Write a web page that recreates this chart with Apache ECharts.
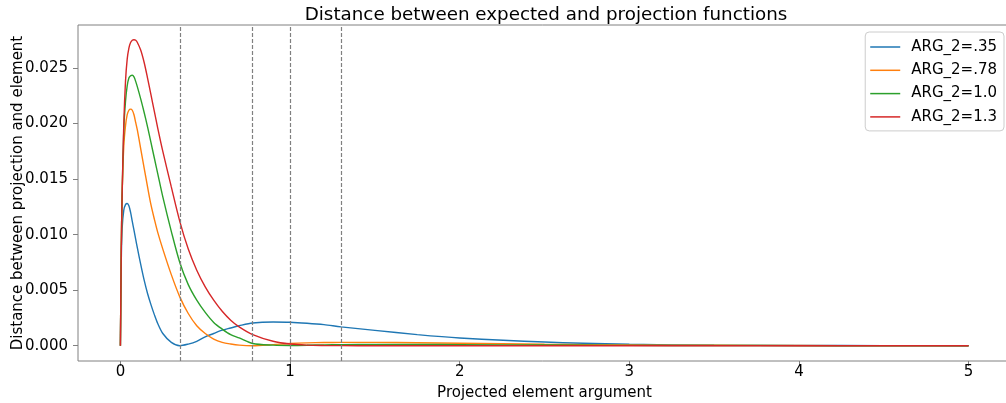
<!DOCTYPE html>
<html>
<head>
<meta charset="utf-8">
<script src="https://cdn.jsdelivr.net/npm/echarts@6/dist/echarts.min.js"></script>
<style>
html,body{margin:0;padding:0;background:#fff;}
#chart{width:1006px;height:403px;}
</style>
</head>
<body>
<div id="chart"></div>
<script>
// ---- data ----
const titleText = 'Distance between expected and projection functions';
const xLabel = 'Projected element argument';
const yLabel = 'Distance between projection and element';
const seriesNames = ['ARG_2=.35', 'ARG_2=.78', 'ARG_2=1.0', 'ARG_2=1.3'];
const seriesColors = ['#1f77b4', '#ff7f0e', '#2ca02c', '#d62728'];
const xs = [0, 0.005, 0.01, 0.02, 0.03, 0.04, 0.05, 0.06, 0.07, 0.08, 0.09, 0.1, 0.12, 0.14, 0.16, 0.18, 0.2, 0.22, 0.25, 0.3, 0.35, 0.4, 0.45, 0.5, 0.55, 0.6, 0.65, 0.7, 0.78, 0.9, 1.0, 1.1, 1.2, 1.3, 1.5, 1.75, 2.0, 2.5, 3.0, 3.5, 4.0, 4.5, 5.0];
const arg035 = [0, 0.0075, 0.0105, 0.0122, 0.0127, 0.0128, 0.0126, 0.0120, 0.0112, 0.0104, 0.0096, 0.0088, 0.0073, 0.0059, 0.0047, 0.0037, 0.0028, 0.0020, 0.0011, 0.0003, 0.0, 0.00015, 0.0004, 0.0008, 0.0011, 0.0014, 0.0016, 0.0018, 0.00205, 0.00214, 0.00212, 0.00203, 0.0019, 0.0017, 0.00138, 0.0010, 0.0007, 0.00033, 0.00013, 0.00005, 0.00002, 0.00001, 0.0];
const arg078 = [0, 0.0085, 0.0135, 0.0180, 0.0198, 0.0208, 0.0212, 0.0213, 0.0212, 0.0208, 0.0201, 0.0194, 0.0177, 0.0160, 0.0143, 0.0127, 0.0114, 0.0102, 0.0087, 0.0064, 0.0044, 0.0029, 0.0018, 0.0011, 0.0006, 0.0003, 0.00015, 0.00005, 0.0, 0.0001, 0.0002, 0.00026, 0.00029, 0.0003, 0.0003, 0.00027, 0.00022, 0.00013, 0.00007, 0.00004, 0.00002, 0.00001, 0.00001];
const arg100 = [0, 0.0085, 0.0135, 0.0195, 0.0220, 0.0234, 0.0241, 0.0243, 0.02435, 0.0242, 0.0238, 0.0233, 0.0222, 0.0210, 0.0197, 0.0183, 0.0169, 0.0155, 0.0134, 0.0103, 0.0075, 0.0055, 0.0041, 0.0030, 0.0021, 0.0015, 0.0010, 0.0007, 0.0002, 0.00005, 0.00002, 0.00004, 0.00008, 0.0001, 0.00012, 0.00011, 0.0001, 0.00006, 0.00003, 0.00002, 0.00001, 0, 0];
const arg130 = [0, 0.0085, 0.0135, 0.0200, 0.0238, 0.0258, 0.0268, 0.0273, 0.0275, 0.02755, 0.0275, 0.0273, 0.0266, 0.0255, 0.0241, 0.0226, 0.0211, 0.0196, 0.0175, 0.0143, 0.0112, 0.0087, 0.0068, 0.0053, 0.0041, 0.0031, 0.0023, 0.0017, 0.0010, 0.0004, 0.00015, 0.00005, 0.00002, 0.00001, 0, 0, 0, 0, 0, 0, 0, 0, 0];
const vlines = [0.35, 0.78, 1.0, 1.3];
const xTicks = [0, 1, 2, 3, 4, 5];
const yTicks = [0, 0.005, 0.01, 0.015, 0.02, 0.025];

// ---- chart ----
const FONT = 'DejaVu Sans';
const allValues = [arg035, arg078, arg100, arg130];
const chart = echarts.init(document.getElementById('chart'), null, {renderer: 'canvas'});
const series = allValues.map((vals, i) => ({
  name: seriesNames[i],
  type: 'line',
  data: xs.map((x, k) => [x, vals[k]]),
  symbol: 'none',
  showSymbol: false,
  smooth: 0.3,
  lineStyle: {color: seriesColors[i], width: 1.4},
  itemStyle: {color: seriesColors[i]},
  z: 3
}));
series[0].markLine = {
  silent: true,
  symbol: ['none', 'none'],
  label: {show: false},
  animation: false,
  lineStyle: {color: '#808080', type: [4, 2], width: 1.2},
  data: vlines.map(v => ({xAxis: v}))
};
chart.setOption({
  animation: false,
  backgroundColor: '#fff',
  textStyle: {fontFamily: FONT},
  title: {
    text: titleText,
    left: 541,
    textAlign: 'center',
    top: 1,
    textStyle: {fontFamily: FONT, fontSize: 18.3, fontWeight: 'normal', color: '#000'}
  },
  legend: {
    orient: 'vertical',
    right: 2,
    top: 32,
    padding: [7, 7, 6, 5],
    icon: 'rect',
    itemWidth: 30,
    itemHeight: 1.5,
    itemGap: 7.3,
    borderColor: '#cccccc',
    borderWidth: 1,
    borderRadius: 4,
    backgroundColor: 'rgba(255,255,255,0.8)',
    textStyle: {fontFamily: FONT, fontSize: 15, lineHeight: 16, color: '#000', padding: [0, 0, 0, 6]},
    data: seriesNames
  },
  grid: {
    left: 78, right: -5, top: 25, bottom: 42,
    outerBoundsMode: 'none',
    containLabel: false,
    show: true, borderColor: '#808080', borderWidth: 1, backgroundColor: 'transparent'
  },
  xAxis: {
    type: 'value',
    min: -0.25, max: 5.25,
    name: xLabel,
    nameLocation: 'middle',
    nameGap: 25,
    nameMoveOverlap: false,
    nameTextStyle: {fontFamily: FONT, fontSize: 15, color: '#000'},
    axisLine: {show: false, onZero: false},
    splitLine: {show: false},
    axisTick: {show: true, length: 5, customValues: xTicks, lineStyle: {color: '#808080'}},
    axisLabel: {customValues: xTicks, fontFamily: FONT, fontSize: 15, color: '#000', margin: 4,
      formatter: v => String(Math.round(v))}
  },
  yAxis: {
    type: 'value',
    min: -0.001375, max: 0.028875,
    name: yLabel,
    nameLocation: 'middle',
    nameGap: 52,
    nameMoveOverlap: false,
    nameTextStyle: {fontFamily: FONT, fontSize: 15, color: '#000'},
    axisLine: {show: false, onZero: false},
    splitLine: {show: false},
    axisTick: {show: true, length: 5, customValues: yTicks, lineStyle: {color: '#808080'}},
    axisLabel: {customValues: yTicks, fontFamily: FONT, fontSize: 15, color: '#000', margin: 10,
      formatter: v => v.toFixed(3)}
  },
  series: series
});
</script>
</body>
</html>
